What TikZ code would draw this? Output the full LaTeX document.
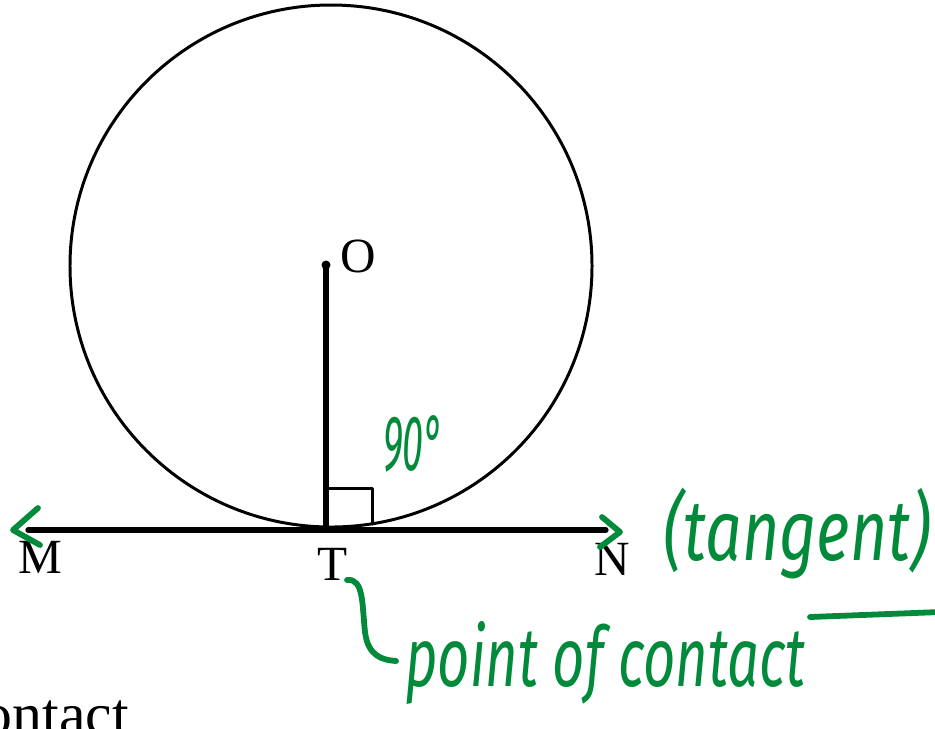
\documentclass[tikz,border=0pt]{standalone}
\usepackage{fontspec}
\setmainfont{Liberation Serif}
\newfontfamily\handfont{Fira Sans}
\usetikzlibrary{positioning}
\definecolor{penGreen}{RGB}{0,138,58}

\begin{document}
\begin{tikzpicture}[x=0.02cm,y=-0.02cm,line join=round,line cap=round,
  lbl/.style={font=\fontsize{28}{30}\selectfont,inner sep=0pt},
  pen/.style={penGreen,line width=3.3pt},
  hand/.style={penGreen,inner sep=0pt}]
\useasboundingbox (0,0) rectangle (935,728);
\clip (0,0) rectangle (935,728);
% --- circle, radius and tangent line
\coordinate (O) at (326,265);
\coordinate (T) at (326,530);
\coordinate (M) at (28,530);
\coordinate (N) at (606,530);
\draw[line width=1.7pt] (331,266) circle (261);
\draw[line width=3pt] (M) -- (N);
\draw[line width=3pt] (O) -- (T);
\fill (O) circle (4.5);
% right angle mark
\draw[line width=1.7pt] (326,488) -| (372,524);
% labels
\node[lbl,anchor=base west] (lblO) at (340,272) {O};
\node[lbl,anchor=base] (lblM) at (40,573) {M};
\node[lbl,anchor=base] (lblT) at (333,580) {T};
\node[lbl,anchor=base] (lblN) at (612,575) {N};
\node[font=\fontsize{34}{36}\selectfont,inner sep=0pt,anchor=base east] (lblC) at (129,734) {contact};
% --- green pen notes
\draw[pen] (38,508) -- (13,530) -- (40,545);
\draw[pen] (602,517) -- (620,532) -- (600,547);
\node[hand,anchor=base west] (ang) at (383,470) {\resizebox{1.2cm}{1.1cm}{\handfont\itshape 90°}};
\node[hand,anchor=base west] (tan) at (663,560) {\resizebox{5.35cm}{1.45cm}{\handfont\itshape (tangent)}};
\draw[pen] (810,617) -- (940,612);
\draw[pen] (347,580) .. controls (364,578) and (362,605) .. (365,632) .. controls (368,656) and (382,660) .. (396,661);
\node[hand,anchor=base west] (poc) at (405,686) {\resizebox{8cm}{1.3cm}{\handfont\itshape point of contact}};
\end{tikzpicture}
\end{document}
